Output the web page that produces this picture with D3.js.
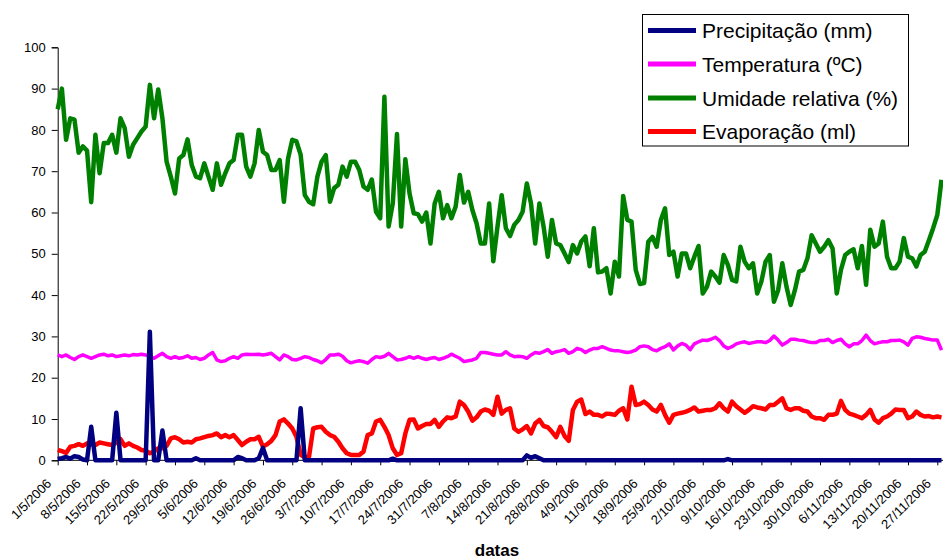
<!DOCTYPE html>
<html>
<head>
<meta charset="utf-8">
<script src="https://cdn.jsdelivr.net/npm/d3@7"></script>
<style>
  html, body { margin: 0; padding: 0; background: #fff; }
  svg { display: block; font-family: Arial, "Liberation Sans", sans-serif; }
</style>
</head>
<body>
<svg id="chart" width="943" height="560"></svg>
<script>
// ---- data ----
const startDate = "2006-05-01"; // first category (1/5/2006), daily values
const tickLabels = ["1/5/2006","8/5/2006","15/5/2006","22/5/2006","29/5/2006","5/6/2006","12/6/2006","19/6/2006","26/6/2006","3/7/2006","10/7/2006","17/7/2006","24/7/2006","31/7/2006","7/8/2006","14/8/2006","21/8/2006","28/8/2006","4/9/2006","11/9/2006","18/9/2006","25/9/2006","2/10/2006","9/10/2006","16/10/2006","23/10/2006","30/10/2006","6/11/2006","13/11/2006","20/11/2006","27/11/2006"];
const yTicks = [0,10,20,30,40,50,60,70,80,90,100];

const precipitacao = [
0.3,0.5,0.8,0.4,1.0,0.8,0.2,0,8.1,0, 0,0,0,0,11.5,0,0,0,0,0, 0,0,31.1,0,0,7.2,0,0,0,0,
0,0,0,0.5,0,0,0,0,0,0, 0,0,0,0.8,0.5,0,0,0,0.5,3.0, 0,0,0,0,0,0,0,0,12.6,0,
0,0,0,0,0,0,0,0,0,0, 0,0,0,0,0,0,0,0,0,0, 0.4,0,0,0,0,0,0,0,0,0,
0,0,0,0,0,0,0,0,0,0, 0,0,0,0,0,0,0,0,0,0, 0,0,1.2,0.6,1.0,0.5,0,0,0,0,
0,0,0,0,0,0,0,0,0,0, 0,0,0,0,0,0,0,0,0,0, 0,0,0,0,0,0,0,0,0,0,
0,0,0,0,0,0,0,0,0,0, 0.3,0,0,0,0,0,0,0,0,0, 0,0,0,0,0,0,0,0,0,0,
0,0,0,0,0,0,0,0,0,0, 0,0,0,0,0,0,0,0,0,0, 0,0,0,0,0,0,0,0,0,0,
0,0
];

const temperatura = [
25.5,25.1,25.5,24.9,24.4,25.1,25.5,25.1,24.7,25.1, 25.5,25.7,25.3,25.5,25.1,25.3,25.5,25.3,25.6,25.5,
25.7,25.5,25.1,24.7,25.3,25.9,25.1,24.7,25.1,24.7, 24.9,25.3,24.7,24.9,24.4,24.7,25.5,26.1,24.3,23.9,
24.1,24.7,25.1,24.7,25.5,25.7,25.6,25.6,25.7,25.5, 25.7,25.9,25.1,24.3,25.5,25.1,24.4,24.3,24.7,25.1,
24.9,24.4,24.1,23.6,24.4,25.5,25.5,25.7,25.2,24.1, 23.6,23.9,24.1,23.9,23.5,24.4,25.1,24.9,25.2,25.9,
25.1,24.3,24.4,24.7,25.1,24.7,25.1,24.7,24.4,24.7, 24.9,24.4,24.7,25.1,25.7,25.2,24.7,23.9,24.1,24.3,
24.7,26.1,26.1,25.9,25.7,25.5,25.5,26.3,25.5,25.1, 25.2,25.1,24.7,25.5,26.1,25.9,26.3,26.8,25.9,26.3,
26.5,26.8,25.9,26.3,27.1,26.8,26.1,26.7,27.1,27.1, 27.5,27.1,26.7,26.5,26.5,26.3,26.1,26.3,26.7,27.5,
27.7,27.5,26.8,26.5,27.1,27.5,28.2,26.7,27.7,28.3, 27.9,26.8,28.2,28.7,29.1,29.0,29.3,29.8,29.0,27.7,
27.1,27.5,28.2,28.5,28.7,28.3,28.5,28.7,28.7,28.5, 29.0,30.1,29.1,27.9,28.5,29.3,29.3,29.1,29.0,28.7,
28.5,28.5,29.0,29.0,29.3,28.5,29.0,29.3,28.2,27.5, 28.2,28.2,29.0,30.3,29.0,28.2,28.5,28.7,28.7,29.0,
29.0,29.1,28.7,27.9,29.5,29.9,29.8,29.5,29.3,29.1, 29.1,26.7
];

const umidade = [
85,90,77.6,82.8,82.5,74.5,76,75,62.5,78.8, 69.5,76.8,76.8,78.8,74.5,82.8,80.4,73.5,76.4,78,
79.6,80.8,90.9,82.8,89.8,82.8,72.3,68.7,64.6,73.1, 73.9,77.7,71.5,68.7,68.3,71.9,68.7,65.5,71.9,66.7,
69.5,71.9,72.7,78.8,78.8,71.1,68.7,71.9,80,74.7, 73.9,70.3,70.3,72.7,62.6,73.1,77.6,77.2,74,64.2,
62.6,62,68.7,72.3,73.9,62.6,65.9,66.7,71.1,68.7, 72.3,72.3,70.3,66.3,65.5,68,60.2,58.6,88,56.6,
62.2,79,56.6,72.9,64.6,59.8,59.6,57.8,60,52.5, 62.2,65,58.6,61.8,58.6,61.4,69.1,62.4,65,60.6,
57.4,52.5,52.5,62.2,48.2,56.6,64.2,56.2,54.3,57, 58.2,60.2,67,62.2,52.5,62.2,56.6,49.3,58.2,52.5,
52.1,50.1,48,52.1,50.1,53,54.2,47,56.2,45.5, 45.7,46.5,40.4,48.1,44.5,64,58.2,57.8,46.1,42.7,
42.9,52.9,54.1,51.7,58.2,61,49.7,50.5,44.5,50.1, 50.1,46.5,49.3,51.9,40.4,42,45.7,44.5,43,49.7,
47.3,43.7,43.3,51.7,48.1,46.5,47.7,40.4,43.3,48.1, 49.7,38.4,41.2,47.7,42,37.6,41.2,45.7,46.1,48.9,
54.5,52.5,50.5,51.7,53.3,51.3,40.4,46.1,49.7,50.5, 51.1,46.5,51.9,42.5,55.8,51.7,52.5,57.8,49.3,46.5,
46.5,48.1,53.8,49.3,48.9,46.9,49.7,50.5,53.3,56.2, 59.4,67.9
];

const evaporacao = [
2.5,2.2,1.8,3.3,3.5,3.9,3.5,4.1,3.9,3.7, 4.3,4.1,3.9,3.7,4.3,5.1,3.5,4.1,3.5,3.1,
2.5,2.3,1.7,2.1,2.9,2.9,3.5,5.3,5.6,5.1, 4.3,4.5,4.3,5.1,5.3,5.6,5.9,6.1,6.5,5.6,
6.1,5.6,6.1,4.9,3.7,4.5,5.1,5.1,5.7,3.3, 3.9,4.7,6.1,9.4,9.9,8.9,7.7,5.7,1.3,0.7,
0.9,7.7,8,8.1,6.9,6.1,5.7,4.5,2.9,1.7, 1.3,1.3,1.3,2.1,6.1,6.5,9.4,9.8,8.1,6.1,
2.9,1.3,1.7,6.5,9.8,9.9,7.7,8.3,8.8,8.8, 9.8,8.1,9.4,10.4,10.2,10.6,14.2,13.4,11.8,9.6,
10.4,11.8,12.3,12,11,15.4,11.3,12.2,12.6,7.7, 6.9,7.5,8.3,6.5,8.9,9.8,8.3,8,6.9,5.6,
8.1,5.9,4.7,12.2,14.2,14.7,11.2,11.8,11,11, 10.6,11.3,11.2,11,12,12.6,9.9,17.8,13.4,13.6,
14.2,13.4,12.3,11.8,13.4,11,9.1,11,11.3,11.5, 11.8,12.2,12.8,11.8,12,12.2,12.2,12.6,13.8,12.6,
11.8,14.2,13.1,12.3,11.5,12.2,13.1,12.8,12.6,12.3, 13.4,13.4,14.2,15,12.6,12.2,12.6,12.6,12,11.8,
10.6,10.2,10.2,9.8,11,11,11.3,14.4,12.2,11.3, 11,10.6,10.2,11,12.2,9.9,9.1,10.2,10.6,11.3,
12.3,12.2,12.2,10.2,10.6,11.8,11,10.6,10.7,10.4, 10.6,10.4
];

const seriesNames = ["Precipitação (mm)", "Temperatura (ºC)", "Umidade relativa (%)", "Evaporação (ml)"];
const seriesColors = ["#000080", "#FF00FF", "#008000", "#FF0000"];
const xTitle = "datas";

// ---- chart ----
const svg = d3.select("#chart");
const W = 943, H = 560;
const margin = { left: 57.7, top: 47.3, bottom: 460.3 };

const start = d3.utcParse("%Y-%m-%d")(startDate);
const parseLabel = d3.utcParse("%d/%m/%Y");
const tickDates = tickLabels.map(parseLabel);
const dayOf = i => d3.utcDay.offset(start, i);

const x = d3.scaleUtc()
  .domain([tickDates[0], tickDates[tickDates.length - 1]])
  .range([57.7, 937.3]);
const y = d3.scaleLinear().domain([0, 100]).range([margin.bottom, margin.top]);

// y axis
const yAxis = svg.append("g")
  .attr("transform", `translate(${margin.left},0)`)
  .call(d3.axisLeft(y).tickValues(yTicks).tickSize(6).tickPadding(6).tickFormat(d3.format("d")));
yAxis.selectAll("text").attr("font-size", 13).attr("fill", "#000").attr("font-family", "Arial, 'Liberation Sans', sans-serif");
yAxis.selectAll("line").attr("stroke", "#000");
yAxis.select(".domain").attr("stroke", "#000");

// x axis
const xAxis = svg.append("g")
  .attr("transform", `translate(0,${margin.bottom})`)
  .call(d3.axisBottom(x).tickValues(tickDates).tickSize(5).tickSizeOuter(0)
        .tickFormat((d, i) => tickLabels[i]));
xAxis.select(".domain").remove();
xAxis.append("line").attr("x1", margin.left).attr("x2", W).attr("y1", 0).attr("y2", 0).attr("stroke", "#000");
xAxis.selectAll("line").attr("stroke", "#000");
xAxis.selectAll(".tick text")
  .attr("font-size", 13).attr("fill", "#000")
  .attr("font-family", "Arial, 'Liberation Sans', sans-serif")
  .attr("text-anchor", "end")
  .attr("x", 0).attr("y", 0).attr("dy", 0)
  .attr("transform", "translate(-6,24) rotate(-45)");

// lines
const mkLine = d3.line()
  .x((d, i) => x(dayOf(i)))
  .y(d => y(d))
  .curve(d3.curveLinear);

const plot = svg.append("g");
const drawOrder = [
  { data: umidade, color: seriesColors[2], w: 4.5 },
  { data: temperatura, color: seriesColors[1], w: 3.5 },
  { data: evaporacao, color: seriesColors[3], w: 4.5 },
  { data: precipitacao, color: seriesColors[0], w: 4.5 }
];
drawOrder.forEach(s => {
  plot.append("path")
    .datum(s.data)
    .attr("d", mkLine)
    .attr("fill", "none")
    .attr("stroke", s.color)
    .attr("stroke-width", s.w)
    .attr("stroke-linejoin", "round")
    .attr("stroke-linecap", "butt");
});

// x title
svg.append("text")
  .attr("x", 497).attr("y", 556)
  .attr("text-anchor", "middle")
  .attr("font-size", 17).attr("font-weight", "bold")
  .attr("fill", "#000")
  .text(xTitle);

// legend
const lg = svg.append("g");
lg.append("rect")
  .attr("x", 642.5).attr("y", 14.5).attr("width", 266).attr("height", 131.5)
  .attr("fill", "#fff").attr("stroke", "#000").attr("stroke-width", 1);
const rowY = [30.5, 64, 98, 131.5];
seriesNames.forEach((name, i) => {
  lg.append("line")
    .attr("x1", 648).attr("x2", 696).attr("y1", rowY[i]).attr("y2", rowY[i])
    .attr("stroke", seriesColors[i]).attr("stroke-width", 5);
  lg.append("text")
    .attr("x", 702).attr("y", rowY[i]).attr("dy", "0.36em")
    .attr("font-size", 21).attr("fill", "#000")
    .text(name);
});
</script>
</body>
</html>
